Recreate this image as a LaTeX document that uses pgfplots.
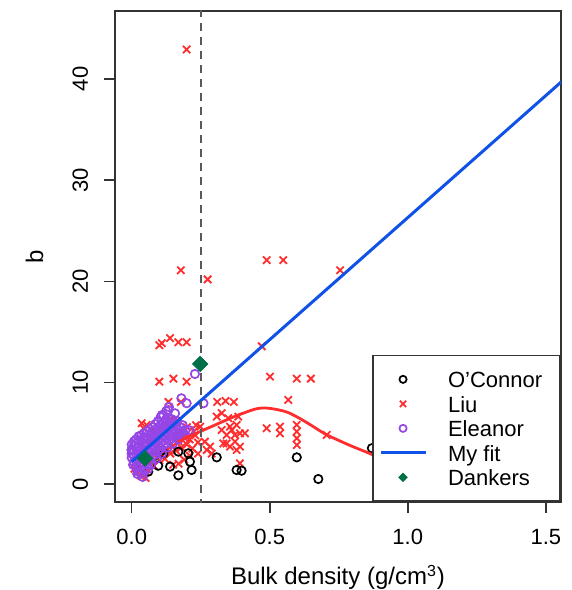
\documentclass[border=0pt]{standalone}
\usepackage{fontspec}
\setmainfont{Liberation Sans}
\usepackage{pgfplots}
\pgfplotsset{compat=1.18}
\definecolor{liured}{RGB}{255,45,45}
\definecolor{elpurple}{RGB}{150,70,230}
\definecolor{fitblue}{RGB}{16,82,232}
\definecolor{dgreen}{RGB}{0,112,70}
\pgfplotsset{
  markleg/.style={legend image code/.code={\path[draw=none] (0pt,0pt) -- (22.5pt,0pt); \path[##1] plot[only marks] coordinates {(11.25pt,0pt)};}},
  lineleg/.style={legend image code/.code={\draw[##1] (0pt,0pt) -- (22.5pt,0pt);}},
}
\begin{document}
\begin{tikzpicture}
\begin{axis}[name=ax, scale only axis, width=223pt, height=245.5pt,
  xmin=-0.0605, xmax=1.555, ymin=-1.78, ymax=46.7,
  clip marker paths=true,
  font=\fontsize{11}{13}\selectfont,
  /pgf/number format/assume math mode=true,
  xtick={0,0.5,1,1.5}, xticklabels={0.0,0.5,1.0,1.5},
  ytick={0,10,20,30,40}, yticklabels={0,10,20,30,40},
  tick align=outside, xtick pos=bottom, ytick pos=left,
  major tick length=5.5pt,
  tick style={line width=0.8pt, black!80},
  axis line style={line width=0.8pt, black!80},
  xticklabel style={anchor=base, inner sep=0pt},
  yticklabel style={rotate=90, anchor=base, inner sep=0pt},
  xticklabel shift=15.5pt, yticklabel shift=8pt,
  xlabel={Bulk density (g/cm\textsuperscript{3})},
  ylabel={b},
  xlabel style={at={(axis description cs:0.5,-0.169)}, anchor=base, inner sep=0pt, font=\fontsize{12}{14}\selectfont},
  ylabel style={at={(axis description cs:-0.1614,0.5)}, anchor=base, inner sep=0pt, font=\fontsize{12}{14}\selectfont},
  legend style={at={(1,0)}, anchor=south east, draw=black!80, line width=0.8pt, fill=white,
    font=\fontsize{11}{13}\selectfont, inner xsep=3pt, inner ysep=5.8pt,
    column sep=4.5pt, row sep=0pt,
    nodes={inner xsep=6pt, inner ysep=0.875pt, text height=9.5pt, text depth=1pt}},
  legend cell align=left,
]
% Liu
\addplot[forget plot, only marks, mark=x, mark size=2.6pt, liured, mark options={line width=0.9pt}] coordinates {
(0.199,42.9) (0.178,21.1) (0.275,20.2) (0.489,22.1) (0.549,22.1) (0.755,21.1)
(0.100,13.7) (0.109,13.9) (0.139,14.4) (0.169,14.0) (0.199,14.0) (0.471,13.6)
(0.100,10.1) (0.151,10.4) (0.199,10.1) (0.501,10.6) (0.598,10.4) (0.649,10.4)
(0.133,8.1) (0.178,8.1) (0.31,8.1) (0.34,8.2) (0.37,8.1) (0.567,8.3)
(0.308,6.65) (0.386,6.65) (0.489,5.5) (0.537,5.66) (0.537,5.0)
(0.598,5.83) (0.598,5.17) (0.598,4.51) (0.598,3.85) (0.706,4.84)
(0.326,7.0) (0.35,6.5) (0.356,5.66) (0.374,4.84) (0.392,5.0) (0.41,5.0)
(0.374,4.18) (0.392,3.69) (0.344,4.0) (0.392,2.04) (0.248,5.66) (0.265,4.18)
(0.284,3.69) (0.326,5.33) (0.344,4.84) (0.362,5.33) (0.38,5.83) (0.332,4.0)
(0.356,3.69) (0.38,3.36) (0.272,3.36) (0.29,3.0) (0.036,6.0) (0.042,5.5) (0.054,5.83)
(0.02,1.2) (0.03,1.6) (0.04,1.0) (0.05,0.6) (0.06,1.4) (0.035,0.8) (0.045,2.0)
(0.07,2.2) (0.08,1.8) (0.09,2.6) (0.1,2.3) (0.11,2.9) (0.12,2.5) (0.13,3.4)
(0.14,3.0) (0.15,3.8) (0.16,3.3) (0.17,4.2) (0.18,3.6) (0.19,4.6) (0.2,3.9)
(0.21,4.4) (0.22,3.5) (0.23,4.8) (0.24,4.1) (0.025,3.0) (0.015,2.2) (0.01,1.5)
(0.05,3.5) (0.065,4.5) (0.08,5.2) (0.1,5.4) (0.12,5.9) (0.14,6.2) (0.155,6.3)
(0.21,2.8) (0.19,2.4) (0.17,2.0) (0.15,1.9) (0.225,5.2) (0.24,3.0) (0.2,5.6)
(0.18,5.1) (0.16,4.7) (0.233,5.8)
};
% O'Connor
\addplot[forget plot, only marks, mark=o, mark size=2.1pt, black, mark options={line width=0.85pt}] coordinates {
(0.0,3.36) (0.06,1.22) (0.078,2.7) (0.084,2.86) (0.096,1.8) (0.109,3.3) (0.115,3.03)
(0.139,1.71) (0.169,0.85) (0.169,3.19) (0.205,3.03) (0.211,2.2) (0.217,1.38)
(0.308,2.63) (0.38,1.38) (0.398,1.31) (0.598,2.63) (0.676,0.49) (0.87,3.53)
(0.03,2.0) (0.05,2.4)
};
% Eleanor
\addplot[forget plot, only marks, mark=o, mark size=2.1pt, elpurple, mark options={line width=0.85pt}] coordinates {
(0.000,2.6) (0.000,3.0) (0.000,3.4) (0.000,3.9)
(0.008,2.2) (0.008,2.8) (0.008,3.3) (0.008,3.8) (0.008,4.2)
(0.016,1.6) (0.016,2.3) (0.016,2.9) (0.016,3.5) (0.016,4.0) (0.016,4.4)
(0.025,1.2) (0.025,1.9) (0.025,2.6) (0.025,3.2) (0.025,3.7) (0.025,4.3) (0.025,4.7)
(0.035,1.0) (0.035,1.7) (0.035,2.5) (0.035,3.1) (0.035,3.6) (0.035,4.2) (0.035,4.8)
(0.045,1.3) (0.045,2.0) (0.045,2.8) (0.045,3.4) (0.045,4.0) (0.045,4.6) (0.045,5.0)
(0.055,1.9) (0.055,2.6) (0.055,3.3) (0.055,3.9) (0.055,4.5) (0.055,5.2)
(0.065,2.3) (0.065,3.0) (0.065,3.6) (0.065,4.2) (0.065,4.8) (0.065,5.4)
(0.075,2.7) (0.075,3.3) (0.075,3.9) (0.075,4.5) (0.075,5.1) (0.075,5.6)
(0.085,2.9) (0.085,3.5) (0.085,4.1) (0.085,4.7) (0.085,5.3) (0.085,5.9)
(0.095,3.2) (0.095,3.8) (0.095,4.4) (0.095,5.0) (0.095,5.6) (0.095,6.2)
(0.105,3.5) (0.105,4.0) (0.105,4.6) (0.105,5.2) (0.105,5.8) (0.105,6.6)
(0.115,3.8) (0.115,4.3) (0.115,4.9) (0.115,5.5) (0.115,6.1) (0.115,6.8)
(0.125,4.0) (0.125,4.6) (0.125,5.2) (0.125,5.8) (0.125,6.4) (0.125,7.2)
(0.135,4.3) (0.135,4.9) (0.135,5.5) (0.135,6.1) (0.135,7.6)
(0.145,4.5) (0.145,5.1) (0.145,5.7) (0.145,6.4)
(0.155,4.7) (0.155,5.3) (0.155,6.0) (0.157,6.98)
(0.165,4.8) (0.165,5.5) (0.165,6.2)
(0.175,5.0) (0.175,5.6) (0.18,8.46)
(0.185,5.2) (0.185,5.8) (0.195,5.3) (0.199,7.97) (0.21,5.3)
(0.229,10.86) (0.26,7.97) (0.109,6.8) (0.133,7.3)
(0.005,1.9) (0.02,1.0) (0.04,0.7) (0.06,1.5) (0.07,1.9) (0.09,2.5) (0.11,3.0)
(0.13,3.6) (0.15,4.0) (0.17,4.4) (0.19,4.8)
};
% Liu fit curve
\addplot[forget plot, liured, line width=1.4pt, smooth, tension=0.6] coordinates {
(0.175,4.2) (0.20,4.6) (0.25,5.2) (0.30,5.8) (0.35,6.4) (0.40,6.95) (0.47,7.5)
(0.55,7.2) (0.60,6.6) (0.65,5.8) (0.70,4.95) (0.75,4.3) (0.80,3.7) (0.85,3.15)
(0.89,2.7) (0.95,2.2) (1.0,1.9)
};
% My fit
\addplot[forget plot, fitblue, line width=1.5pt] coordinates {(0,2.2) (1.6,40.76)};
% dashed threshold
\addplot[forget plot, black!65, line width=1pt, dash pattern=on 4pt off 3pt] coordinates {(0.25,-5) (0.25,50)};
% Dankers
\addplot[forget plot, only marks, mark=square*, mark size=2.7pt, dgreen, mark options={rotate=45}] coordinates {
(0.248,11.85) (0.048,2.53)
};
% legend
\addlegendimage{only marks, mark=o, mark size=1.8pt, black, mark options={line width=0.85pt}, markleg}
\addlegendentry{O'Connor}
\addlegendimage{only marks, mark=x, mark size=2.2pt, liured, mark options={line width=0.9pt}, markleg}
\addlegendentry{Liu}
\addlegendimage{only marks, mark=o, mark size=1.8pt, elpurple, mark options={line width=0.85pt}, markleg}
\addlegendentry{Eleanor}
\addlegendimage{fitblue, line width=1.5pt, lineleg}
\addlegendentry{My fit}
\addlegendimage{only marks, mark=square*, mark size=1.3pt, dgreen, mark options={rotate=45}, markleg}
\addlegendentry{Dankers}
\end{axis}
\pgfresetboundingbox
\path[use as bounding box] ([xshift=-57.5pt,yshift=-44pt]ax.south west) rectangle ([xshift=5.5pt,yshift=5.5pt]ax.north east);
\end{tikzpicture}
\end{document}
